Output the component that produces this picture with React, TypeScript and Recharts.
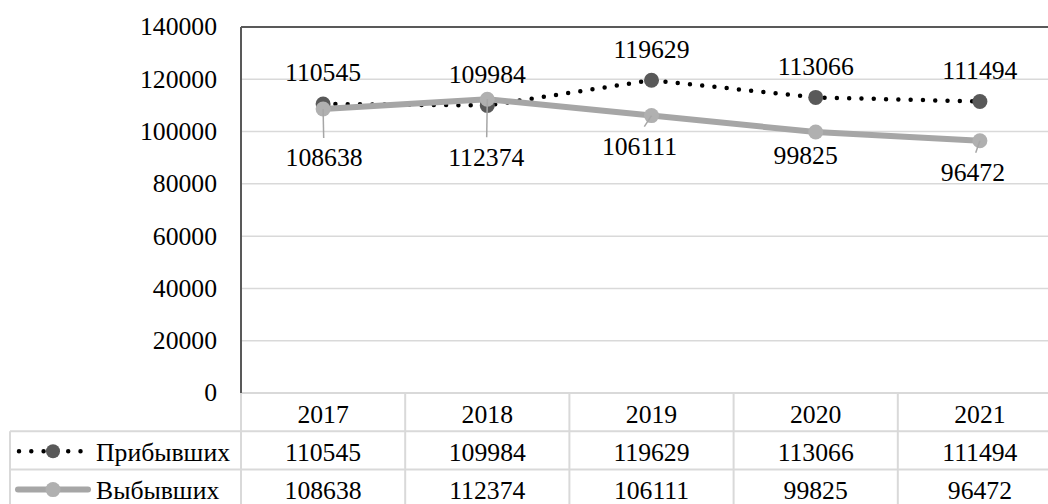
import React from 'react';
import { LineChart, Line, XAxis, YAxis, CartesianGrid, ReferenceLine } from 'recharts';

// ---- data ----
const years = ['2017', '2018', '2019', '2020', '2021'];
const arrived = [110545, 109984, 119629, 113066, 111494];
const departed = [108638, 112374, 106111, 99825, 96472];
const yTicks = [0, 20000, 40000, 60000, 80000, 100000, 120000, 140000];
const seriesNames = ['Прибывших', 'Выбывших'];

const data = years.map((y, i) => ({ year: y, arrived: arrived[i], departed: departed[i] }));

// ---- layout / style ----
const FONT = 'Liberation Serif';
const FS = 25.7;
const CHART_W = 1080;
const CHART_H = 504;
const MARGIN = { top: 27, right: 18, bottom: 0, left: 0 };
const Y_W = 241;
const X_H = 111;
const COL_W = (CHART_W - MARGIN.left - MARGIN.right - Y_W) / years.length;
const ROW_H = 38.3;
const ROW_BASE = 29.5;
const LEGEND_LEFT = 10;
const GRID = '#d9d9d9';
const AXIS = '#595959';
const DARK_MARK = '#595959';
const GRAY_LINE = '#a6a6a6';
const GRAY_MARK = '#b0b0b0';

// label placement relative to the point (Excel-like)
const upperLabelDy = -31;
const lowerLabelOffsets: [number, number][] = [[1, 49], [-1, 58], [-12, 31], [-10, 23], [-7, 32]];

const textStyle = { fontFamily: FONT, fontSize: FS, fill: '#000' };

const DotDark = (p: any) => (
  <circle key={`dd-${p.index}`} cx={p.cx} cy={p.cy} r={7.5} fill={DARK_MARK} />
);
const DotGray = (p: any) => (
  <circle key={`dg-${p.index}`} cx={p.cx} cy={p.cy} r={7.5} fill={GRAY_MARK} />
);

const UpperLabel = (p: any) => {
  const { x, y, value, index } = p;
  return (
    <text key={`ul-${index}`} x={x} y={y + upperLabelDy + FS * 0.33} textAnchor="middle" style={textStyle}>
      {value}
    </text>
  );
};

const LowerLabel = (p: any) => {
  const { x, y, value, index } = p;
  const [dx, dy] = lowerLabelOffsets[index] || [0, 30];
  const lx = x + dx;
  const ly = y + dy;
  return (
    <g key={`ll-${index}`}>
      {dy > 28 && (
        <line x1={x} y1={y} x2={x + dx * 0.6} y2={ly - 20} stroke={GRAY_LINE} strokeWidth={1.5} />
      )}
      <text x={lx} y={ly + FS * 0.33} textAnchor="middle" style={textStyle}>
        {value}
      </text>
    </g>
  );
};

const YTick = (p: any) => {
  const { x, y, payload } = p;
  return (
    <text x={x} y={y + FS * 0.33} textAnchor="end" style={textStyle}>
      {payload.value}
    </text>
  );
};

const TableTick = (props: any) => {
  const { x, y, index, payload } = props;
  const half = COL_W / 2;
  const bottom = y + ROW_H * 3 + 5;
  const left = index === 0 ? LEGEND_LEFT : x - half;
  const r1 = y + ROW_H;
  const r2 = y + ROW_H * 2;
  return (
    <g>
      <line x1={x + half} y1={y} x2={x + half} y2={bottom} stroke={GRID} strokeWidth={2} />
      {index === 0 && <line x1={x - half} y1={y} x2={x - half} y2={bottom} stroke={GRID} strokeWidth={2} />}
      <line x1={left} y1={r1} x2={x + half} y2={r1} stroke={GRID} strokeWidth={2} />
      <line x1={left} y1={r2} x2={x + half} y2={r2} stroke={GRID} strokeWidth={2} />
      <text x={x} y={y + ROW_BASE} textAnchor="middle" style={textStyle}>{payload.value}</text>
      <text x={x} y={r1 + ROW_BASE} textAnchor="middle" style={textStyle}>{arrived[index]}</text>
      <text x={x} y={r2 + ROW_BASE} textAnchor="middle" style={textStyle}>{departed[index]}</text>
      {index === 0 && (
        <g>
          <line x1={LEGEND_LEFT} y1={r1} x2={LEGEND_LEFT} y2={bottom} stroke={GRID} strokeWidth={2} />
          <line x1={19} y1={r1 + 20} x2={83} y2={r1 + 20} stroke="#000" strokeWidth={4.5}
            strokeDasharray="0 12.3" strokeLinecap="round" />
          <circle cx={53} cy={r1 + 20} r={7} fill={DARK_MARK} />
          <text x={96} y={r1 + ROW_BASE} textAnchor="start" style={textStyle}>{seriesNames[0]}</text>
          <line x1={18} y1={r2 + 20} x2={88} y2={r2 + 20} stroke={GRAY_LINE} strokeWidth={6} strokeLinecap="round" />
          <circle cx={53} cy={r2 + 20} r={7.5} fill={GRAY_MARK} />
          <text x={96} y={r2 + ROW_BASE} textAnchor="start" style={textStyle}>{seriesNames[1]}</text>
        </g>
      )}
    </g>
  );
};

export default function App() {
  return (
    <div style={{ position: 'absolute', left: 0, top: 0, width: 1048, height: 504, overflow: 'hidden', background: '#fff', fontFamily: FONT }}>
      <LineChart width={CHART_W} height={CHART_H} data={data} margin={MARGIN}>
        <CartesianGrid vertical={false} stroke={GRID} strokeWidth={1.5} />
        <XAxis
          dataKey="year"
          scale="band"
          interval={0}
          height={X_H}
          tickLine={false}
          tickSize={0}
          tickMargin={0}
          axisLine={{ stroke: GRID, strokeWidth: 2 }}
          tick={<TableTick />}
        />
        <YAxis
          width={Y_W}
          domain={[0, 140000]}
          ticks={yTicks}
          interval={0}
          tickLine={false}
          tickSize={0}
          tickMargin={24}
          axisLine={{ stroke: AXIS, strokeWidth: 2 }}
          tick={<YTick />}
        />
        <ReferenceLine y={140000} stroke={AXIS} strokeWidth={2} />
        <Line
          name={seriesNames[0]}
          dataKey="arrived"
          stroke="#000"
          strokeWidth={4.5}
          strokeDasharray="0 12.3"
          strokeLinecap="round"
          dot={DotDark}
          activeDot={false}
          label={UpperLabel}
          isAnimationActive={false}
        />
        <Line
          name={seriesNames[1]}
          dataKey="departed"
          stroke={GRAY_LINE}
          strokeWidth={6}
          strokeLinejoin="round"
          dot={DotGray}
          activeDot={false}
          label={LowerLabel}
          isAnimationActive={false}
        />
      </LineChart>
    </div>
  );
}
